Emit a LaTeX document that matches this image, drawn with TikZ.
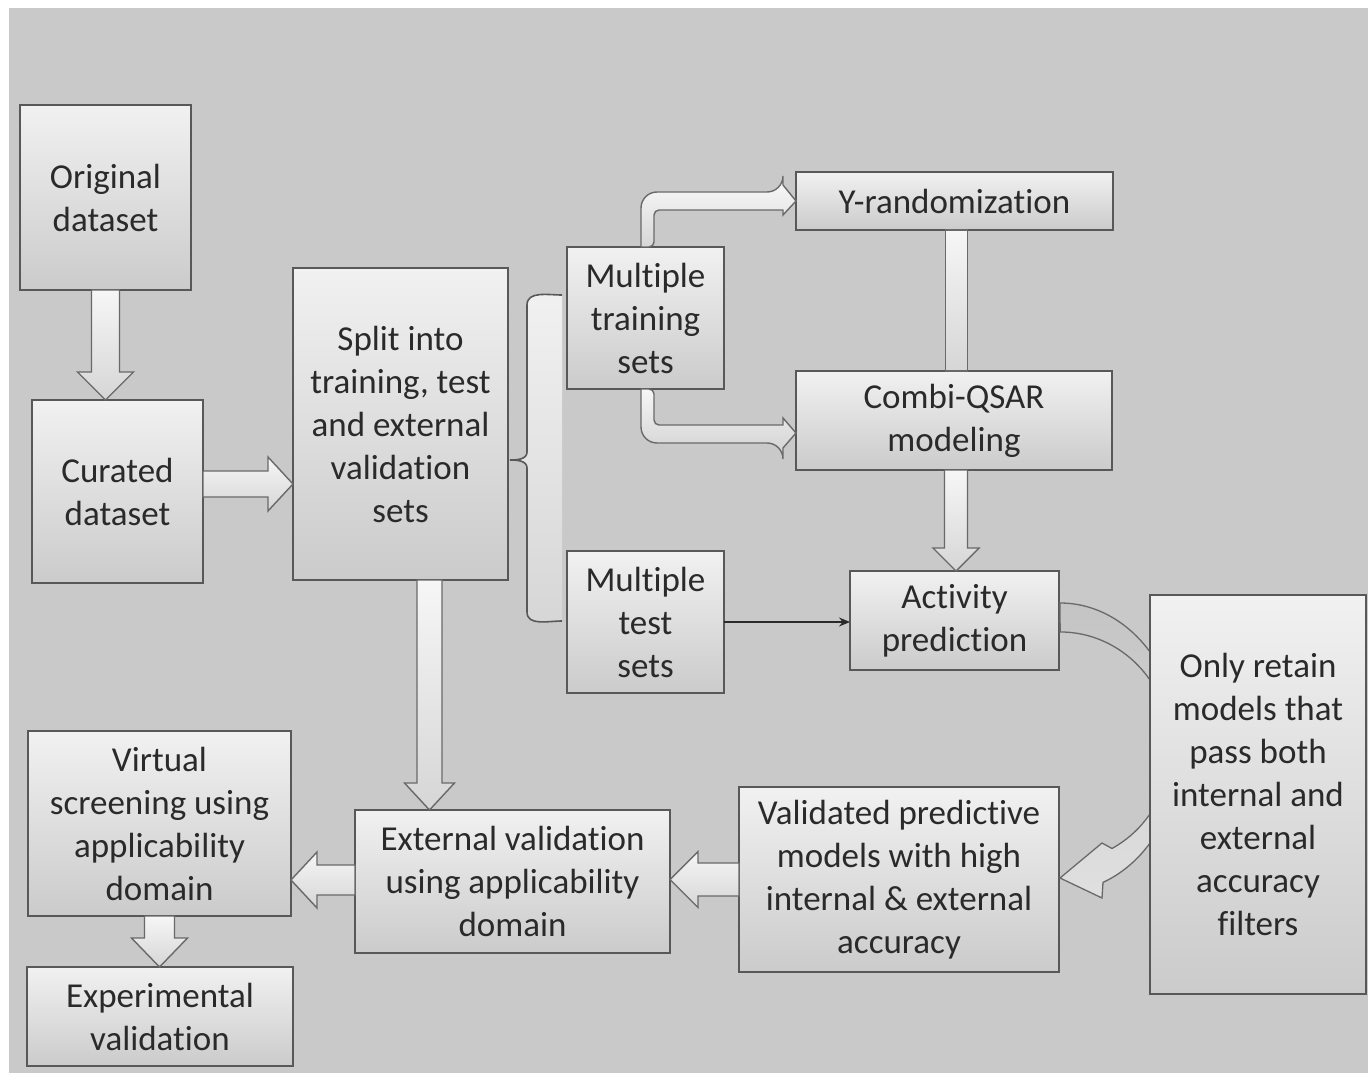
\documentclass[tikz,border=0pt]{standalone}
\usepackage{fontspec}
\setmainfont{Carlito}[Ligatures=NoCommon]
\usetikzlibrary{calc,arrows.meta}

\definecolor{bgc}{RGB}{201,201,201}
\definecolor{boxtop}{RGB}{241,241,241}
\definecolor{boxbot}{RGB}{203,203,203}
\definecolor{edgec}{RGB}{88,88,88}
\definecolor{textc}{RGB}{42,42,42}
\definecolor{arrtop}{RGB}{246,246,246}
\definecolor{arrbot}{RGB}{214,214,214}
\definecolor{arredge}{RGB}{105,105,105}
\definecolor{curvtop}{RGB}{196,196,196}
\definecolor{curvbot}{RGB}{224,224,224}

\tikzset{
  stage/.style={draw=edgec, line width=1.6pt, top color=boxtop, bottom color=boxbot,
    align=center, text=textc, font=\fontsize{35}{43}\selectfont,
    inner sep=0pt, outer sep=0pt, anchor=north west},
  blk/.style={draw=arredge, line width=1.4pt, top color=arrtop, bottom color=arrbot, line join=miter},
  bracefill/.style={top color=boxtop, bottom color=arrbot},
  braceline/.style={draw=edgec, line width=1.6pt},
  curv/.style={draw=arredge, line width=1.3pt, top color=curvtop, bottom color=curvbot, line join=miter},
  thin/.style={draw=textc, line width=1.6pt, -{Stealth[length=11pt,width=9pt]}},
}

% straight block arrow: from, to, half shaft width, half head width, head length
\newcommand\blockarrow[5]{%
  \coordinate (baA) at (#1);
  \coordinate (baB) at (#2);
  \coordinate (baH) at ($(baB)!#5!(baA)$);
  \draw[blk] ($(baA)!#3!90:(baB)$) -- ($(baH)!#3!90:(baB)$) -- ($(baH)!#4!90:(baB)$)
    -- (baB) -- ($(baH)!#4!-90:(baB)$) -- ($(baH)!#3!-90:(baB)$) -- ($(baA)!#3!-90:(baB)$) -- cycle;
}

\begin{document}
\begin{tikzpicture}[x=1pt,y=-1pt]
\fill[white] (0,0) rectangle (1368,1075);
\useasboundingbox (0,0) rectangle (1368,1075);
\fill[bgc] (9,8) rectangle (1368,1073);

% stages
\node[stage, minimum width=171pt, minimum height=185pt] (orig) at (20,105) {Original\\dataset};
\node[stage, minimum width=171pt, minimum height=183pt] (cur) at (32,400) {Curated\\dataset};
\node[stage, minimum width=215pt, minimum height=312pt] (split) at (293,268)
  {Split into\\training, test\\and external\\validation\\sets};
\node[stage, minimum width=157pt, minimum height=142pt] (mt) at (567,247) {Multiple\\training\\sets};
\node[stage, minimum width=157pt, minimum height=142pt] (mtest) at (567,551) {Multiple\\test\\sets};
\node[stage, minimum width=317pt, minimum height=58pt] (yr) at (796,172) {Y-randomization};
\node[stage, minimum width=316pt, minimum height=99pt] (cq) at (796,371) {Combi-QSAR\\modeling};
\node[stage, minimum width=209pt, minimum height=99pt] (act) at (850,571) {Activity\\prediction};
\node[stage, minimum width=320pt, minimum height=185pt] (val) at (739,787)
  {Validated predictive\\models with high\\internal \& external\\accuracy};
\node[stage, minimum width=315pt, minimum height=143pt] (ext) at (355,810)
  {External validation\\using applicability\\domain};
\node[stage, minimum width=263pt, minimum height=185pt] (virt) at (28,731)
  {Virtual\\screening using\\applicability\\domain};
\node[stage, minimum width=266pt, minimum height=99pt] (exp) at (27,967) {Experimental\\validation};

% straight block arrows
\blockarrow{orig.south}{orig.south |- cur.north}{14pt}{28pt}{28pt}
\coordinate (c1) at ($(cur.east)+(0,-7.5)$);
\blockarrow{c1}{c1 -| split.west}{13pt}{27pt}{25pt}
\coordinate (c2) at ($(split.south)+(29,0)$);
\blockarrow{c2}{c2 |- ext.north}{12.5pt}{25pt}{27pt}
\coordinate (c3) at ($(cq.south)+(2,0)$);
\blockarrow{c3}{c3 |- act.north}{11.5pt}{23pt}{23pt}
\coordinate (c4) at ($(ext.west)+(0,-1.5)$);
\blockarrow{c4}{c4 -| virt.east}{15pt}{28pt}{26pt}
\blockarrow{val.west}{val.west -| ext.east}{16.5pt}{28pt}{28pt}
\blockarrow{virt.south}{virt.south |- exp.north}{15pt}{28pt}{29pt}

% shaft joining Y-randomization and Combi-QSAR
\draw[blk] ($(yr.south)+(-9,0)$) rectangle ($(cq.north)+(13.5,0)$);

% bent arrows leaving the training sets
\draw[blk] ($(mt.north)+(-4.5,0)$) [rounded corners=16] |- ($(yr.west)+(-13,-9)$) [sharp corners]
  -- ++(0,-7) -- (yr.west) -- ($(yr.west)+(-13,14)$) -- ++(0,-5) [rounded corners=5]
  -| ($(mt.north)+(8.5,0)$) [sharp corners] -- cycle;
\coordinate (cqin) at ($(cq.west)+(0,12.5)$);
\draw[blk] ($(mt.south)+(-4.5,0)$) [rounded corners=16] |- ($(cqin)+(-13,10)$) [sharp corners]
  -- ++(0,5) -- (cqin) -- ($(cqin)+(-13,-15)$) -- ++(0,7) [rounded corners=5]
  -| ($(mt.south)+(8.5,0)$) [sharp corners] -- cycle;

% brace splitting the data set
\coordinate (brTip) at ($(split.east)+(2,36)$);
\coordinate (brTop) at ($(mt.west)+(-5,-23)$);
\coordinate (brBot) at ($(mtest.west)+(-5,-1)$);
\path[bracefill] (brTop) to[out=180,in=90] ($(brTop)+(-35,10)$) -- ($(brTip)+(17,-8)$)
  to[out=-90,in=0] (brTip) to[out=0,in=90] ($(brTip)+(17,8)$) -- ($(brBot)+(-35,-9)$)
  to[out=-90,in=180] (brBot) -- cycle;
\draw[braceline] (brTop) to[out=180,in=90] ($(brTop)+(-35,10)$) -- ($(brTip)+(17,-8)$)
  to[out=-90,in=0] (brTip) to[out=0,in=90] ($(brTip)+(17,8)$) -- ($(brBot)+(-35,-9)$)
  to[out=-90,in=180] (brBot);

% test sets feed the activity prediction
\draw[thin] (mtest.east) -- (mtest.east -| act.west);

% curved arrow from prediction round to the validated models
\coordinate (cvO) at ($(act.east)+(1,-17.5)$);
\coordinate (cvT) at ($(val.east)+(1,-1.5)$);
\draw[curv] (cvO) arc[start angle=90, end angle=-69, x radius=120pt, y radius=144.5pt]
  -- ($(cvT)+(42,20)$) -- (cvT) -- ($(cvT)+(42,-35)$) -- ($(cvT)+(52,-29.5)$)
  arc[start angle=-62, end angle=90, x radius=110.5pt, y radius=115pt] -- cycle;

\node[stage, minimum width=216pt, minimum height=399pt] (only) at (1150,595)
  {Only retain\\models that\\pass both\\internal and\\external\\accuracy\\filters};
\end{tikzpicture}
\end{document}
